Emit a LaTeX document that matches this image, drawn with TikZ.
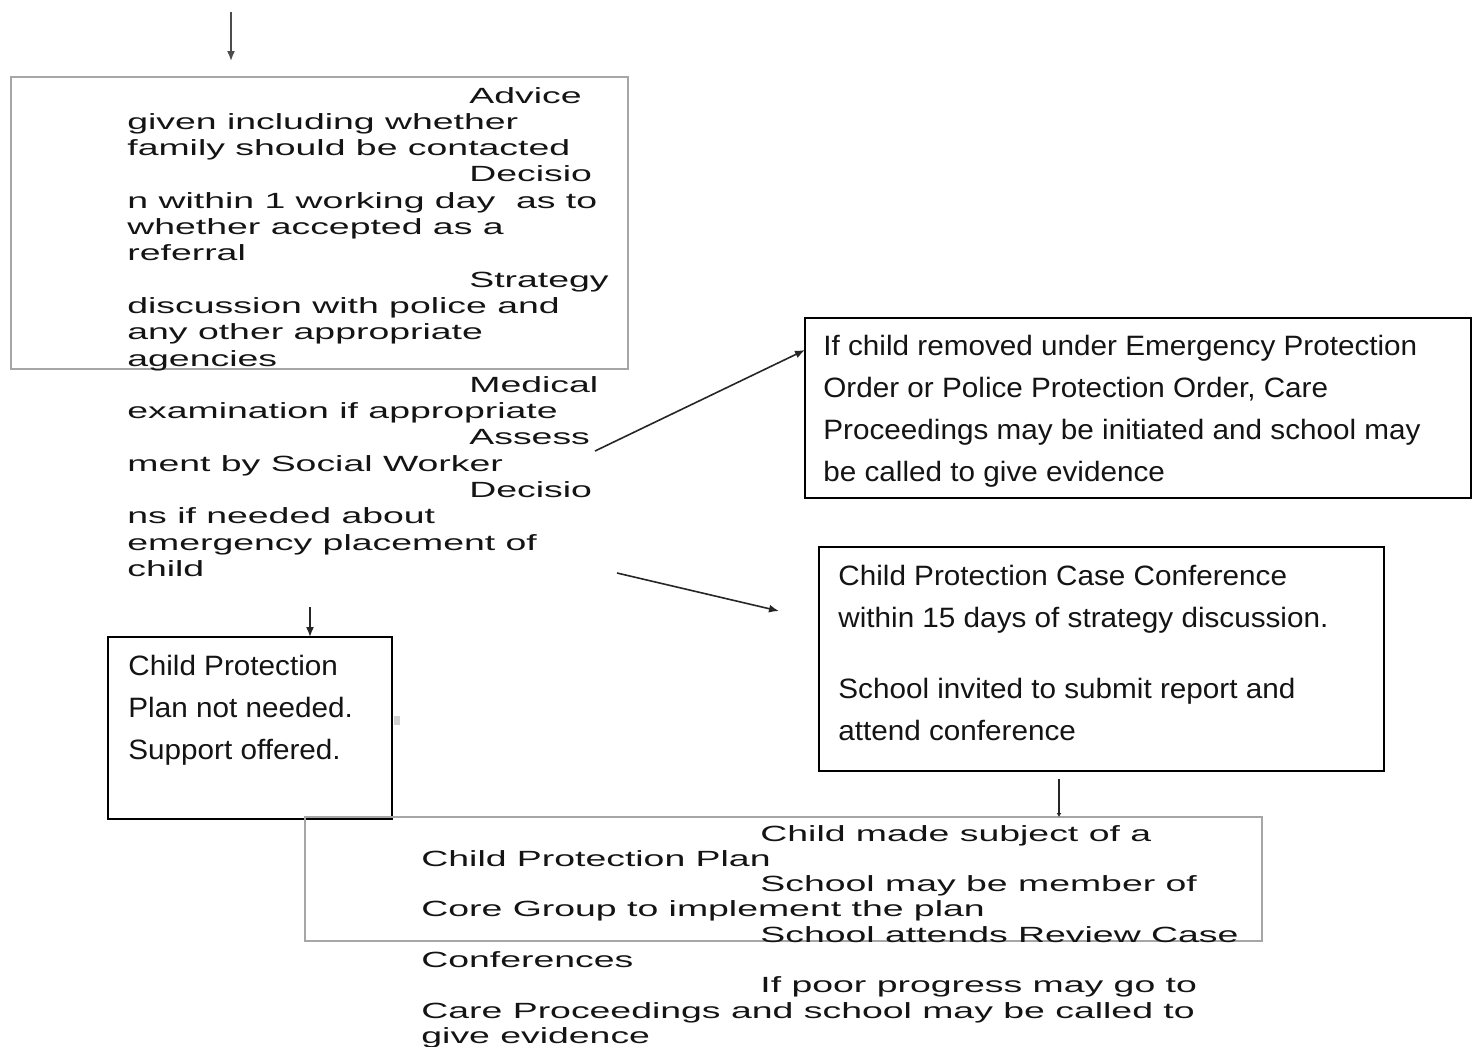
\documentclass[tikz,border=0pt]{standalone}
\usepackage{fontspec}
\setmainfont{Liberation Sans}
\newfontfamily\widefont[FakeStretch=1.70]{Liberation Sans}
\newfontfamily\boxfont[FakeStretch=1.06]{Liberation Sans}
\usetikzlibrary{arrows.meta}
\begin{document}
\begin{tikzpicture}[x=0.5pt,y=-0.5pt,
  frame/.style={draw=black, line width=0.9pt, anchor=north west, inner sep=0pt, outer sep=0pt},
  greyframe/.style={draw=gray!70, line width=0.9pt, anchor=north west, inner sep=0pt, outer sep=0pt},
  widetext/.style={anchor=base west, inner sep=0pt, text=black!92},
  boxtext/.style={anchor=base west, inner sep=0pt, text=black!92},
  arr/.style={draw=black!85, line width=0.8pt, -{Latex[length=5pt,width=4pt]}}
]
\useasboundingbox (0,0) rectangle (1473,1046);

% boxes
\node[greyframe, minimum width=308.5pt, minimum height=146pt] (b1) at (11,77) {};
\node[frame, minimum width=333pt, minimum height=90pt] (rt) at (805,318) {};
\node[frame, minimum width=282.5pt, minimum height=112pt] (cc) at (819,547) {};
\node[frame, minimum width=142pt, minimum height=91pt] (np) at (108,637) {};
\node[greyframe, minimum width=478.5pt, minimum height=62pt] (bb) at (305,817) {};

% texts
\node[widetext] (t1) at (127,103) {\parbox[t]{420pt}{\widefont\fontsize{11}{13.15}\selectfont
\hspace*{171pt}Advice\\
given including whether\\
family should be contacted\\
\hspace*{171pt}Decisio\\
n within 1 working day~ as to\\
whether accepted as a\\
referral\\
\hspace*{171pt}Strategy\\
discussion with police and\\
any other appropriate\\
agencies\\
\hspace*{171pt}Medical\\
examination if appropriate\\
\hspace*{171pt}Assess\\
ment by Social Worker\\
\hspace*{171pt}Decisio\\
ns if needed about\\
emergency placement of\\
child}};

\node[boxtext] (t2) at (823,355) {\parbox[t]{420pt}{\boxfont\fontsize{14}{21}\selectfont
If child removed under Emergency Protection\\
Order or Police Protection Order, Care\\
Proceedings may be initiated and school may\\
be called to give evidence}};

\node[boxtext] (t3) at (838,585) {\parbox[t]{420pt}{\boxfont\fontsize{14}{21}\selectfont
Child Protection Case Conference\\
within 15 days of strategy discussion.\\[14.5pt]
School invited to submit report and\\
attend conference}};

\node[boxtext] (t4) at (128,675) {\parbox[t]{300pt}{\boxfont\fontsize{14}{21}\selectfont
Child Protection\\
Plan not needed.\\
Support offered.}};

\node[widetext] (t5) at (421,841) {\parbox[t]{600pt}{\widefont\fontsize{11}{12.65}\selectfont
\hspace*{169.5pt}Child made subject of a\\
Child Protection Plan\\
\hspace*{169.5pt}School may be member of\\
Core Group to implement the plan\\
\hspace*{169.5pt}School attends Review Case\\
Conferences\\
\hspace*{169.5pt}If poor progress may go to\\
Care Proceedings and school may be called to\\
give evidence}};

% connectors
\coordinate (a0) at (231,12);
\coordinate (a1) at (231,61);
\draw[arr, draw=black!70] (a0) -- (a1);

\coordinate (s1) at (595,451);
\coordinate (e1) at (0,350);
\draw[arr] (s1) -- (rt.west |- e1);

\coordinate (s2) at (617,573);
\coordinate (e2) at (779,611);
\draw[arr] (s2) -- (e2);

\coordinate (s3) at (310,607);
\draw[arr] (s3) -- (s3 |- np.north);

\coordinate (s4) at (1059,779);
\draw[arr, -{Latex[length=2pt,width=2.5pt]}] (s4) -- (s4 |- bb.north);

% small grey mark
\fill[gray!35] (394,716) rectangle (400,725);
\end{tikzpicture}
\end{document}
